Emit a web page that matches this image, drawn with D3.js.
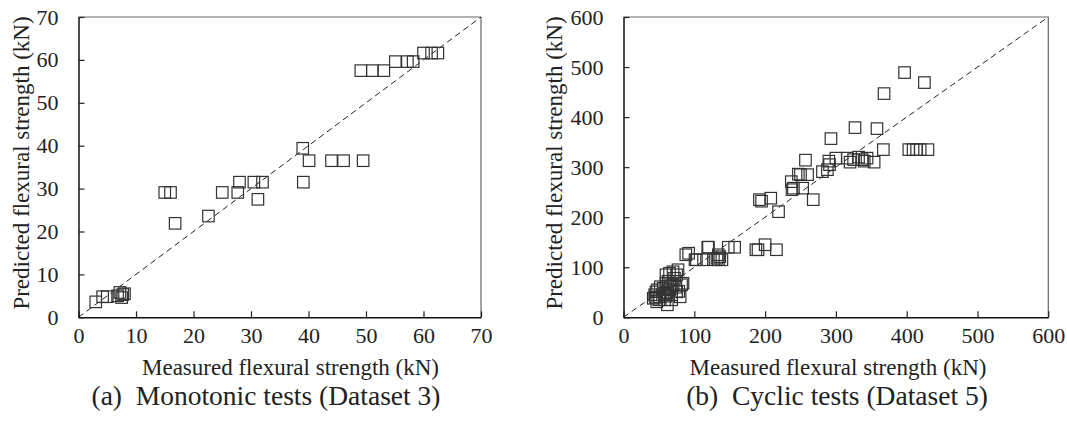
<!DOCTYPE html>
<html><head><meta charset="utf-8">
<script src="https://cdn.jsdelivr.net/npm/d3@7"></script>
<style>
html,body{margin:0;padding:0;background:#fff;}
svg text{font-family:"Liberation Serif","Times New Roman",serif;fill:#222;}
</style></head>
<body><svg id="c" width="1067" height="421"></svg>
<script>
// ---- Data ----
const monoMeasured  = [3.0,4.2,5.0,6.8,7.2,7.7,7.5,8.0,15.0,16.0,16.8,22.6,25.0,27.7,28.0,30.5,32.0,31.2,39.0,39.1,40.1,44.0,46.1,49.5,49.1,51.1,53.1,55.1,57.2,58.2,60.0,61.4,62.5];
const monoPredicted = [3.6,4.8,4.8,5.0,5.8,5.3,4.6,5.5,29.1,29.1,21.9,23.6,29.1,29.1,31.5,31.5,31.5,27.5,39.4,31.5,36.5,36.5,36.5,36.5,57.5,57.5,57.5,59.6,59.6,59.6,61.6,61.6,61.6];

const cycMeasured  = [397,425,368,327,358,293,367,403,409,414,419,430,
  316,325,332,337,344,354,320,340,
  257,290,300,288,281,291,237,250,260,238,240,253,268,192,195,208,219,247,
  119,148,157,187,190,200,216,101,113,127,134,139,134,88,92,103,120,132,136,
  70,65,77,60,60,70,82,46,44,42,51,58,65,56,75,62,47,68,80,84,52,72,55,48,62,66,74,58,45,68,78,63,75,50,60];
const cycPredicted = [489,469,447,379,377,357,335,335,335,335,335,335,
  318,315,320,315,318,310,310,312,
  314,312,318,295,291,305,271,285,285,255,258,258,235,235,232,238,211,286,
  140,140,140,135,135,145,135,115,115,115,115,115,125,125,128,115,140,118,121,
  91,88,95,85,68,65,65,51,45,38,41,48,55,58,51,25,31,35,41,68,61,78,45,55,50,62,60,35,40,45,52,72,85,35,42];

const monoTicks = [0,10,20,30,40,50,60,70];
const cycTicks  = [0,100,200,300,400,500,600];

const xTitle = "Measured flexural strength (kN)";
const yTitle = "Predicted flexural strength (kN)";
const captions = ["(a)  Monotonic tests (Dataset 3)", "(b)  Cyclic tests (Dataset 5)"];

// ---- Drawing ----
const FONT = '"Liberation Serif","Times New Roman",serif';
const svg = d3.select("#c");

function panel(cfg){
  const {xs, ys, max, ticks, x0, x1, y0, y1, yTitleX, xTitleX, capX, caption} = cfg;
  const x = d3.scaleLinear().domain([0,max]).range([x0,x1]);
  const y = d3.scaleLinear().domain([0,max]).range([y0,y1]);
  const g = svg.append("g");

  // frame: top & right lighter
  g.append("line").attr("x1",x0).attr("x2",x1).attr("y1",y1).attr("y2",y1)
    .attr("stroke","#666").attr("stroke-width",1.2);
  g.append("line").attr("x1",x1).attr("x2",x1).attr("y1",y1).attr("y2",y0)
    .attr("stroke","#666").attr("stroke-width",1.2);

  // diagonal
  g.append("line").attr("x1",x(0)).attr("y1",y(0)).attr("x2",x(max)).attr("y2",y(max))
    .attr("stroke","#222").attr("stroke-width",1).attr("stroke-dasharray","6,4");

  // axes
  const ax = d3.axisBottom(x).tickValues(ticks).tickSizeInner(-6).tickSizeOuter(0).tickPadding(10);
  const ay = d3.axisLeft(y).tickValues(ticks).tickSizeInner(-6).tickSizeOuter(0).tickPadding(20);
  const gx = g.append("g").attr("transform",`translate(0,${y0})`).call(ax);
  const gy = g.append("g").attr("transform",`translate(${x0},0)`).call(ay);
  [gx,gy].forEach(a=>{
    a.attr("font-family",FONT).attr("font-size",22);
    a.selectAll("text").style("font-family",FONT).style("font-size","22px").attr("fill","#222");
    a.select(".domain").attr("stroke","#111").attr("stroke-width",1.5);
    a.selectAll(".tick line").attr("stroke","#222").attr("stroke-width",1.2);
  });

  // markers
  const s = 11.5;
  g.append("g").selectAll("rect").data(xs.map((v,i)=>[v,ys[i]])).join("rect")
    .attr("x",d=>x(d[0])-s/2).attr("y",d=>y(d[1])-s/2)
    .attr("width",s).attr("height",s)
    .attr("fill","none").attr("stroke","#333").attr("stroke-width",1.2);

  // titles
  g.append("text").attr("x",xTitleX).attr("y",375).attr("text-anchor","middle")
    .style("font-family",FONT).style("font-size","23px").text(xTitle);
  g.append("text").attr("transform",`translate(${yTitleX},163) rotate(-90)`)
    .attr("text-anchor","middle").style("font-family",FONT).style("font-size","23px").text(yTitle);
  g.append("text").attr("x",capX).attr("y",405).attr("text-anchor","middle")
    .style("font-family",FONT).style("font-size","27.5px").style("white-space","pre").text(caption);
}

panel({xs:monoMeasured, ys:monoPredicted, max:70, ticks:monoTicks,
  x0:78.5, x1:481, y0:317.3, y1:17, yTitleX:29, xTitleX:290.5, capX:266, caption:captions[0]});
panel({xs:cycMeasured, ys:cycPredicted, max:600, ticks:cycTicks,
  x0:623.5, x1:1048.3, y0:317.3, y1:17, yTitleX:562, xTitleX:838, capX:837, caption:captions[1]});
</script>
</body></html>
